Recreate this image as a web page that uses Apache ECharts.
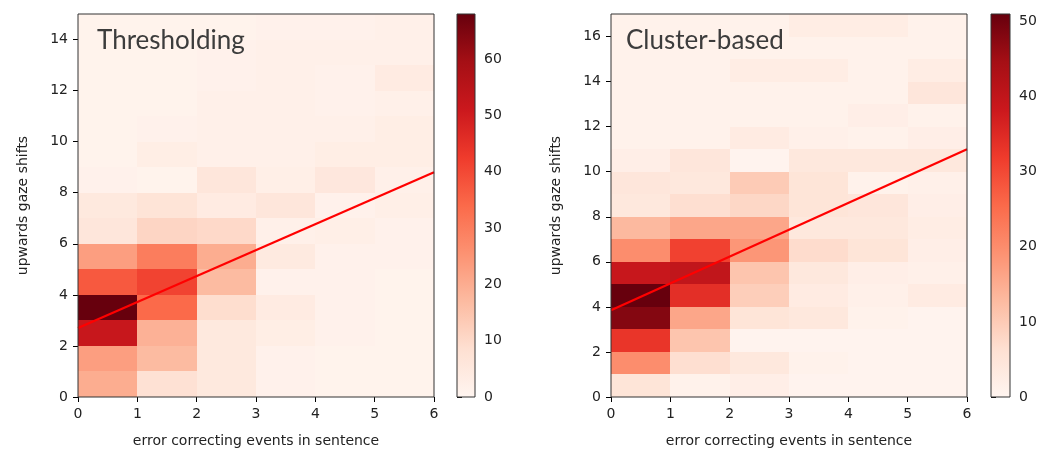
<!DOCTYPE html>
<html><head><meta charset="utf-8">
<script src="https://cdn.jsdelivr.net/npm/echarts@6/dist/echarts.min.js"></script>
<style>html,body{margin:0;padding:0;background:#fff}#c{width:1059px;height:453px}</style>
</head><body><div id="c"></div>
<script>
// ---------- data ----------
const titles = ['Thresholding', 'Cluster-based'];
const xName = 'error correcting events in sentence';
const yName = 'upwards gaze shifts';
const xTicks = [0, 1, 2, 3, 4, 5, 6];
const yTickMaxLeft = 14, yTickMaxRight = 16;     // last labelled tick
const cbTickMaxLeft = 60, cbTickMaxRight = 50;
const yMaxLeft = 15, yMaxRight = 17;
const vmaxLeft = 68, vmaxRight = 51;
// counts per bin: rows = y bins (bottom -> top), columns = x bins 0..5
const countsThresholding = [
  [20, 8, 5, 1.5, 1, 1],
  [23, 17, 5, 1.5, 1, 1],
  [52, 19, 5, 3, 1.5, 1],
  [68, 34, 9, 4, 1.5, 1],
  [37, 41, 17, 1.5, 1.5, 1],
  [23, 30, 20, 4.5, 1.5, 1.5],
  [6, 11, 10, 2, 2.5, 1.5],
  [5, 7, 4, 6, 1.5, 2.5],
  [1.5, 1, 6, 2.5, 5.5, 2],
  [1, 3, 2, 2, 3, 3],
  [1, 1.5, 2, 2, 2, 3],
  [1, 1, 2, 2, 1.5, 2],
  [1, 1, 1.5, 2, 1.5, 4],
  [1, 1, 1.5, 2, 2, 2],
  [1, 1, 1, 1.5, 1.5, 2]
];
const countsCluster = [
  [5, 1, 2, 0.5, 0.5, 0.5],
  [20, 6.5, 4, 1, 0.5, 0.5],
  [33, 11, 0.5, 0.5, 0.5, 0.5],
  [48, 16, 5, 4, 1, 0.5],
  [51, 34, 9.5, 3, 1.5, 3],
  [39, 40, 11, 4, 2, 1.5],
  [20, 31, 18.5, 7, 5, 2],
  [13, 16, 16, 4, 4, 2.5],
  [4, 6.5, 8, 5, 4.5, 2],
  [4.5, 4, 10, 5, 1, 1.5],
  [2, 4.5, 0.5, 4, 4, 4],
  [1, 1, 3, 1.5, 1, 2],
  [1, 1, 1, 1, 2, 1],
  [1, 1, 1, 1, 1, 4.5],
  [1, 1, 2.5, 2.5, 1, 2.5],
  [1, 1, 1, 1, 1, 1],
  [1, 1, 1, 2.5, 2.5, 1]
];
const fitThresholding = [[0, 2.7], [6, 8.8]];
const fitCluster = [[0, 3.85], [6, 11.0]];
const REDS = ['#fff5f0','#fee0d2','#fcbba1','#fc9272','#fb6a4a','#ef3b2c','#cb181d','#a50f15','#67000d'];

// ---------- chart ----------
function toCells(m) { const out = []; m.forEach((row, y) => row.forEach((v, x) => out.push([x, y, v]))); return out; }
function cellItem(params, api) {
  const x = api.value(0), y = api.value(1);
  const p0 = api.coord([x, y]), p1 = api.coord([x + 1, y + 1]);
  const x0 = Math.round(p0[0]), x1 = Math.round(p1[0]), y0 = Math.round(p0[1]), y1 = Math.round(p1[1]);
  return { type: 'rect', shape: { x: x0, y: y1, width: x1 - x0, height: y0 - y1 }, style: { fill: api.visual('color') } };
}
function cbItem(params, api) {
  const p0 = api.coord([0, 0]), p1 = api.coord([1, api.value(1)]);
  return { type: 'rect', shape: { x: p0[0], y: p1[1], width: p1[0] - p0[0], height: p0[1] - p1[1] },
    style: { fill: new echarts.graphic.LinearGradient(0, 1, 0, 0, REDS.map((c, i) => ({ offset: i / (REDS.length - 1), color: c }))) } };
}
const FONT = 'DejaVu Sans';
const tickStyle = { show: true, inside: false, length: 5, lineStyle: { color: '#000', width: 1 } };
const lblBase = { color: '#222', fontSize: 14, fontFamily: FONT };
const nameStyle = { color: '#222', fontSize: 14, fontFamily: FONT };
const gridBase = { show: true, z: 10, borderColor: '#333', borderWidth: 1, backgroundColor: 'transparent', containLabel: false };

// layout
const TOP = 14, H = 383;
const boxes = [ { left: 78, width: 356 }, { left: 611, width: 356 }, { left: 457, width: 18 }, { left: 991, width: 19 } ];
// tick-only grids end exactly at the last labelled tick (same scale as data grids)
function tickGrid(box, tickMax, max) {
  const h = H * tickMax / max;
  return { left: box.left, width: box.width, top: TOP + H - h, height: h, show: false, containLabel: false };
}

function plotX(gi) {
  return { gridIndex: gi, type: 'value', min: 0, max: 6, interval: 1,
    axisLine: { show: false }, axisTick: tickStyle,
    axisLabel: Object.assign({ margin: 10 }, lblBase), splitLine: { show: false },
    name: xName, nameLocation: 'middle', nameGap: 37, nameTextStyle: nameStyle };
}
function dataY(gi, max, withName) {
  return { gridIndex: gi, type: 'value', min: 0, max: max, show: true,
    axisLine: { show: false }, axisTick: { show: false }, axisLabel: { show: false }, splitLine: { show: false },
    name: withName ? yName : '', nameLocation: 'middle', nameGap: 48, nameRotate: 90, nameTextStyle: nameStyle };
}
function hiddenX(gi, max) { return { gridIndex: gi, type: 'value', min: 0, max: max, show: false }; }
function tickY(gi, max, interval, pos, margin) {
  return { gridIndex: gi, type: 'value', min: 0, max: max, interval: interval, position: pos,
    axisLine: { show: false }, axisTick: tickStyle,
    axisLabel: Object.assign({ margin: margin }, lblBase), splitLine: { show: false } };
}

const chart = echarts.init(document.getElementById('c'), null, { renderer: 'canvas' });
chart.setOption({
  animation: false,
  backgroundColor: '#fff',
  title: [
    { text: titles[0], left: 92, top: 23, textStyle: { fontFamily: 'Lato', fontSize: 26, fontWeight: 'normal', color: '#3c3c3c' } },
    { text: titles[1], left: 621, top: 23, textStyle: { fontFamily: 'Lato', fontSize: 26, fontWeight: 'normal', color: '#3c3c3c' } }
  ],
  grid: [
    Object.assign({ left: boxes[0].left, top: TOP, width: boxes[0].width, height: H }, gridBase),
    Object.assign({ left: boxes[1].left, top: TOP, width: boxes[1].width, height: H }, gridBase),
    Object.assign({ left: boxes[2].left, top: TOP, width: boxes[2].width, height: H }, gridBase),
    Object.assign({ left: boxes[3].left, top: TOP, width: boxes[3].width, height: H }, gridBase),
    tickGrid(boxes[0], yTickMaxLeft, yMaxLeft),
    tickGrid(boxes[1], yTickMaxRight, yMaxRight),
    tickGrid(boxes[2], cbTickMaxLeft, vmaxLeft),
    tickGrid(boxes[3], cbTickMaxRight, vmaxRight)
  ],
  xAxis: [plotX(0), plotX(1), hiddenX(2, 1), hiddenX(3, 1), hiddenX(4, 1), hiddenX(5, 1), hiddenX(6, 1), hiddenX(7, 1)],
  yAxis: [
    dataY(0, yMaxLeft, true), dataY(1, yMaxRight, true), dataY(2, vmaxLeft, false), dataY(3, vmaxRight, false),
    tickY(4, yTickMaxLeft, 2, 'left', 10), tickY(5, yTickMaxRight, 2, 'left', 10),
    tickY(6, cbTickMaxLeft, 10, 'right', 9), tickY(7, cbTickMaxRight, 10, 'right', 9)
  ],
  visualMap: [
    { type: 'continuous', show: false, seriesIndex: 0, dimension: 2, min: 0, max: vmaxLeft, inRange: { color: REDS } },
    { type: 'continuous', show: false, seriesIndex: 2, dimension: 2, min: 0, max: vmaxRight, inRange: { color: REDS } }
  ],
  series: [
    { type: 'custom', xAxisIndex: 0, yAxisIndex: 0, data: toCells(countsThresholding), renderItem: cellItem, encode: { x: 0, y: 1 }, silent: true },
    { type: 'line', xAxisIndex: 0, yAxisIndex: 0, data: fitThresholding, showSymbol: false, symbol: 'none', lineStyle: { color: '#ff0000', width: 2.2 }, z: 5 },
    { type: 'custom', xAxisIndex: 1, yAxisIndex: 1, data: toCells(countsCluster), renderItem: cellItem, encode: { x: 0, y: 1 }, silent: true },
    { type: 'line', xAxisIndex: 1, yAxisIndex: 1, data: fitCluster, showSymbol: false, symbol: 'none', lineStyle: { color: '#ff0000', width: 2.2 }, z: 5 },
    { type: 'custom', xAxisIndex: 2, yAxisIndex: 2, data: [[0, vmaxLeft]], renderItem: cbItem, silent: true },
    { type: 'custom', xAxisIndex: 3, yAxisIndex: 3, data: [[0, vmaxRight]], renderItem: cbItem, silent: true }
  ]
});
</script>
</body></html>
